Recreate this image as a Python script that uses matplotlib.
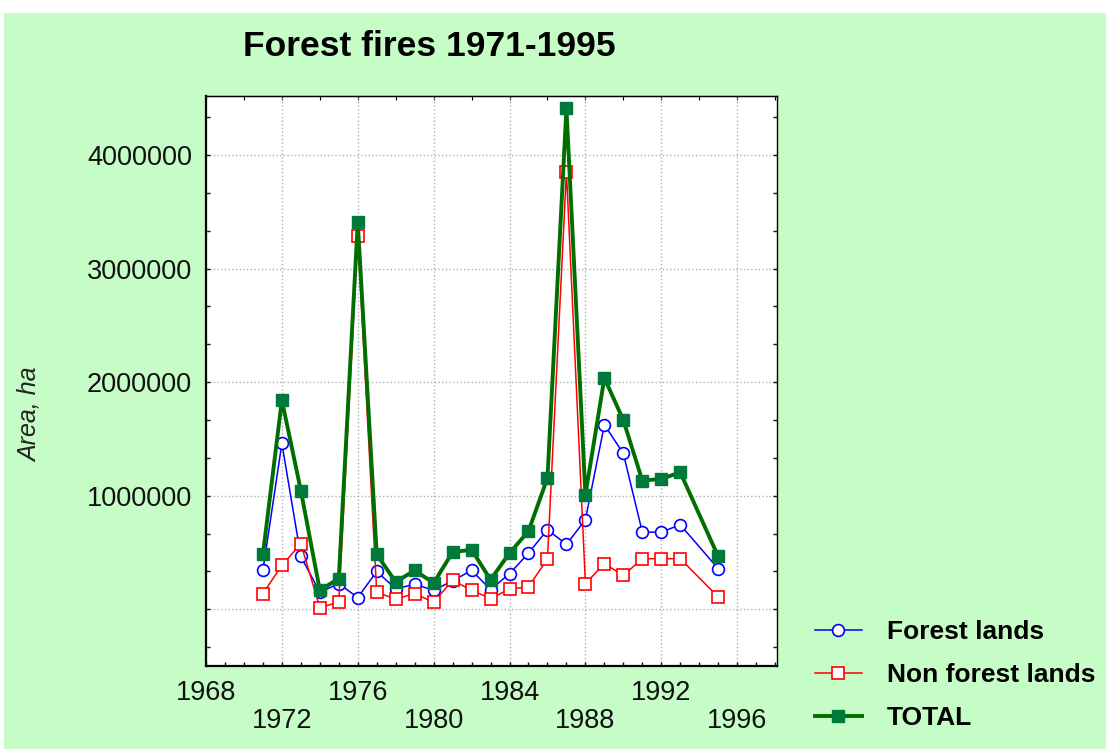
import matplotlib
matplotlib.use("Agg")
from matplotlib import pyplot as plt
from matplotlib.patches import Rectangle
from matplotlib.ticker import MultipleLocator, FixedLocator, NullLocator

years = [1971, 1972, 1973, 1974, 1975, 1976, 1977, 1978, 1979, 1980, 1981, 1982,
         1983, 1984, 1985, 1986, 1987, 1988, 1989, 1990, 1991, 1992, 1993, 1995]

forest = [342000, 1460000, 465000, 150000, 225000, 103000, 333000, 180000, 220000,
          167000, 250000, 342000, 173000, 313000, 494000, 700000, 571000, 788000,
          1624000, 1372000, 679000, 679000, 744000, 357000]

non_forest = [138000, 386000, 577000, 15000, 61000, 3284000, 149000, 90000, 138000,
              61000, 255000, 167000, 94000, 178000, 196000, 445000, 3854000, 225000,
              401000, 298000, 445000, 445000, 445000, 108000]

total = [483000, 1841000, 1045000, 167000, 270000, 3406000, 483000, 240000, 342000,
         231000, 503000, 524000, 260000, 494000, 688000, 1156000, 4410000, 1007000,
         2037000, 1665000, 1133000, 1147000, 1206000, 465000]

x_labels = ['1968', '1972', '1976', '1980', '1984', '1988', '1992', '1996']
y_labels = ['', '1000000', '2000000', '3000000', '4000000']

BG = '#c6fcc6'
plt.rcParams['font.family'] = ['Liberation Sans', 'DejaVu Sans']

fig = plt.figure(figsize=(11.06, 7.49), dpi=100, facecolor='white')
fig.patches.append(Rectangle((4 / 1106, 0), 1, 736 / 749, transform=fig.transFigure,
                             facecolor=BG, edgecolor='none', zorder=-10))

ax = fig.add_axes([206 / 1106, 83 / 749, 571 / 1106, 570 / 749])
ax.set_facecolor('white')

ax.plot(years, forest, color='#0000ff', lw=1.1, marker='o', ms=8.5,
        mfc='white', mec='#0000ff', mew=1.2, label='Forest lands', zorder=3)
ax.plot(years, non_forest, color='#ff0000', lw=1.1, marker='s', ms=9,
        mfc='white', mec='#ff0000', mew=1.2, label='Non forest lands', zorder=4)
ax.plot(years, total, color='#006f00', lw=2.8, marker='s', ms=9,
        mfc='#007a3a', mec='#007a3a', label='TOTAL', zorder=5)

ax.set_xlim(1968, 1998.1)
ax.set_ylim(-500000, 4520000)

ax.xaxis.set_major_locator(FixedLocator([1968, 1972, 1976, 1980, 1984, 1988, 1992, 1996]))
ax.set_xticklabels(x_labels)
ax.xaxis.set_minor_locator(MultipleLocator(1))
ax.yaxis.set_major_locator(FixedLocator([0, 1000000, 2000000, 3000000, 4000000]))
ax.set_yticklabels(y_labels)
ax.yaxis.set_minor_locator(MultipleLocator(1000000 / 3))

ax.tick_params(which='both', direction='in', length=3, width=1, right=True,
               labelsize=19.5, colors='#111111')
ax.tick_params(axis='x', pad=10)
ax.tick_params(axis='y', pad=10)
for i, t in enumerate(ax.xaxis.get_major_ticks()):
    if i % 2 == 1:
        t.set_pad(30)

top = ax.secondary_xaxis('top')
top.xaxis.set_major_locator(MultipleLocator(2))
top.xaxis.set_minor_locator(NullLocator())
top.tick_params(direction='in', length=3, labeltop=False)

ax.grid(True, which='major', color='#b0b0b0', linestyle=':', linewidth=1)
for side in ['left', 'bottom']:
    ax.spines[side].set_linewidth(1.6)
for side in ['top', 'right']:
    ax.spines[side].set_linewidth(1.0)

ax.set_ylabel('Area, ha', fontsize=18, style='italic', color='#222222')
ax.yaxis.set_label_coords(-0.287, 0.44)

fig.text(429 / 1106, 1 - 47 / 749, 'Forest fires 1971-1995', fontsize=25.5,
         fontweight='bold', ha='center', va='center')

fig.legend(loc='upper left', bbox_to_anchor=(815 / 1106, 1 - 620 / 749),
           frameon=False, prop={'weight': 'bold', 'size': 19},
           handlelength=1.78, handletextpad=0.95, labelspacing=0.72, borderpad=0,
           borderaxespad=0)

plt.savefig('out.png', dpi=100, facecolor=fig.get_facecolor())
